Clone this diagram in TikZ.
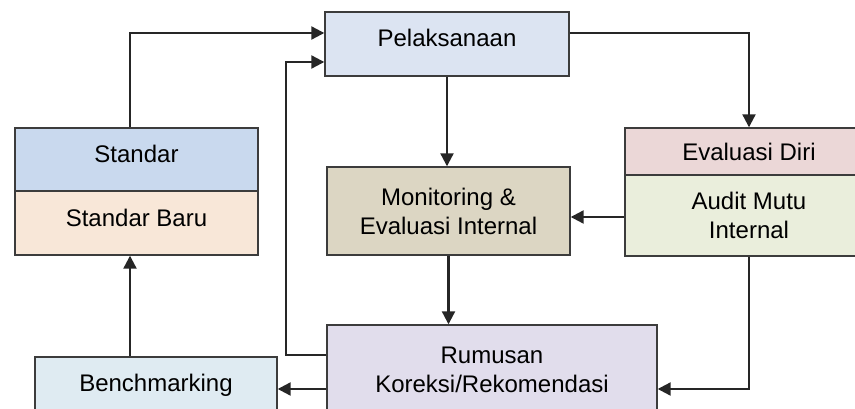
\documentclass[tikz,border=0pt]{standalone}
\usepackage{fontspec}
\setmainfont{Liberation Sans}
\usepackage{tikz}
\usetikzlibrary{arrows.meta}

\definecolor{pelfill}{HTML}{DCE4F2}
\definecolor{stdfill}{HTML}{C9D9EE}
\definecolor{baruFill}{HTML}{F8E7D8}
\definecolor{monfill}{HTML}{DCD6C3}
\definecolor{evafill}{HTML}{EBD7D7}
\definecolor{audfill}{HTML}{EAEEDC}
\definecolor{benchfill}{HTML}{DFEBF2}
\definecolor{rumfill}{HTML}{E1DDEC}
\definecolor{edge}{HTML}{3C3C3C}

\begin{document}
\begin{tikzpicture}[x=1pt,y=-1pt]
		\useasboundingbox (0,0) rectangle (855,409);
		\clip (0,0) rectangle (855,409);
		\begin{scope}[every node/.style={rectangle,draw=edge,line width=1.4pt,align=center,
			font=\fontsize{24}{29}\selectfont,inner sep=0pt}]
			\node[fill=pelfill,minimum width=244pt,minimum height=64pt,text height=18pt,text depth=12pt] (pel) at (447,44) {Pelaksanaan};
			\node[fill=stdfill,minimum width=243pt,minimum height=63pt,text height=18pt,text depth=12pt] (std) at (136.5,159.5) {Standar};
			\node[fill=baruFill,minimum width=243pt,minimum height=64pt,text height=18pt,text depth=12pt] (baru) at (136.5,223) {Standar Baru};
			\node[fill=monfill,minimum width=243pt,minimum height=88pt] (mon) at (448.5,211) {Monitoring \&\\Evaluasi Internal};
			\node[fill=evafill,minimum width=248pt,minimum height=47pt] (eva) at (749,151.5) {Evaluasi Diri};
			\node[fill=audfill,minimum width=248pt,minimum height=81pt] (aud) at (749,215.5) {Audit Mutu\\Internal};
			\node[fill=benchfill,minimum width=242pt,minimum height=56pt] (bench) at (156,385) {Benchmarking};
			\node[fill=rumfill,minimum width=330pt,minimum height=90pt] (rum) at (492,370) {Rumusan\\Koreksi/Rekomendasi};
		\end{scope}

		\begin{scope}[flow/.style={draw=black!85,line width=2.2pt,-{Triangle[length=13pt,width=13pt]}}]
			\draw[flow] ([xshift=-6.5pt]std.north) |- ([yshift=11pt]pel.west);
			\draw[flow] ([yshift=15pt]rum.west) -- ++(-40,0) |- ([yshift=-18pt]pel.west);
			\draw[flow] ([yshift=11pt]pel.east) -| (eva.north);
			\draw[flow] (pel.south) -- (pel.south |- mon.north);
			\draw[flow] (mon.south) -- (mon.south |- rum.north);
			\draw[flow] ([yshift=-1.5pt]aud.west) -- ([yshift=-1.5pt]aud.west -| mon.east);
			\draw[flow] (aud.south) |- ([yshift=-19pt]rum.east);
			\draw[flow] ([yshift=-19pt]rum.west) -- ([yshift=-19pt]rum.west -| bench.east);
			\draw[flow] ([xshift=-26pt]bench.north) -- ([xshift=-26pt]bench.north |- baru.south);
		\end{scope}
	\end{tikzpicture}
\end{document}
